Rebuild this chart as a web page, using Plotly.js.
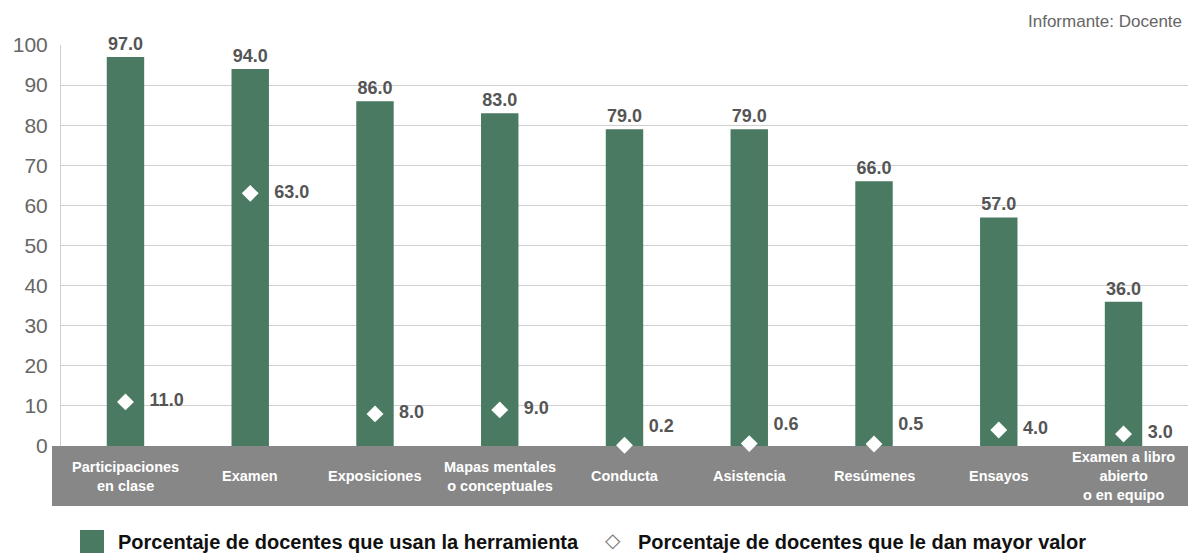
<!DOCTYPE html>
<html>
<head>
<meta charset="utf-8">
<script src="https://cdn.plot.ly/plotly-3.0.1.min.js"></script>
<style>html,body{margin:0;padding:0;background:#fff;}#chart{width:1188px;height:556px;}</style>
</head>
<body>
<div id="chart"></div>
<script>
const categories = ["Participaciones<br>en clase","Examen","Exposiciones","Mapas mentales<br>o conceptuales","Conducta","Asistencia","Resúmenes","Ensayos","Examen a libro<br>abierto<br>o en equipo"];
const usan = [97.0, 94.0, 86.0, 83.0, 79.0, 79.0, 66.0, 57.0, 36.0];
const mayorValor = [11.0, 63.0, 8.0, 9.0, 0.2, 0.6, 0.5, 4.0, 3.0];
const seriesNames = ["Porcentaje de docentes que usan la herramienta", "Porcentaje de docentes que le dan mayor valor"];
const informante = "Informante: Docente";

const GREEN = "#4a7a61";
const BAND = "#878787";
const TXT = "#555555";
const FONT = "Liberation Sans, sans-serif";

const W = 1188, H = 556, L = 61, R = 0, T = 45, B = 110;
const pw = W - L - R, ph = H - T - B;
const px = x => (x - L) / pw;
const py = y => (H - B - y) / ph;

const traces = [
  {
    type: "bar", x: categories, y: usan, name: seriesNames[0],
    marker: {color: GREEN}, width: 0.3,
    texttemplate: "%{y:.1f}", textposition: "outside", cliponaxis: false,
    textfont: {family: FONT, size: 18, color: TXT, weight: "bold"},
    showlegend: false, hoverinfo: "skip"
  },
  {
    type: "scatter", mode: "markers+text", x: categories, y: mayorValor, name: seriesNames[1],
    marker: {symbol: "diamond", size: 13, color: "#ffffff"},
    texttemplate: "   %{y:.1f}",
    textposition: mayorValor.map(v => v < 1 ? "top right" : "middle right"),
    textfont: {family: FONT, size: 18, color: TXT, weight: "bold"},
    cliponaxis: false, showlegend: false, hoverinfo: "skip"
  }
];

const annotations = categories.map(c => ({
  x: c, xref: "x", y: py(476), yref: "paper", text: "<b>" + c + "</b>",
  showarrow: false, xanchor: "center", yanchor: "middle",
  font: {family: FONT, size: 14.5, color: "#ffffff"}, align: "center"
}));
annotations.push({
  x: px(1184), y: py(22), xref: "paper", yref: "paper", text: informante,
  showarrow: false, xanchor: "right", yanchor: "middle",
  font: {family: FONT, size: 17, color: "#666666"}
});
annotations.push({
  x: px(116), y: py(542), xref: "paper", yref: "paper", text: "<b>" + seriesNames[0] + "</b>",
  showarrow: false, xanchor: "left", yanchor: "middle",
  font: {family: FONT, size: 20, color: "#111111"}
});
annotations.push({
  x: px(613), y: py(540), xref: "paper", yref: "paper", text: "◇",
  showarrow: false, xanchor: "center", yanchor: "middle",
  font: {family: "DejaVu Sans, sans-serif", size: 20, color: "#777777"}
});
annotations.push({
  x: px(636), y: py(542), xref: "paper", yref: "paper", text: "<b>" + seriesNames[1] + "</b>",
  showarrow: false, xanchor: "left", yanchor: "middle",
  font: {family: FONT, size: 20, color: "#111111"}
});

const shapes = [
  {type: "rect", xref: "paper", yref: "paper", x0: px(52), x1: 1, y0: py(506), y1: 0,
   fillcolor: BAND, line: {width: 0}, layer: "below"},
  {type: "rect", xref: "paper", yref: "paper", x0: px(80), x1: px(104), y0: py(553), y1: py(530),
   fillcolor: GREEN, line: {width: 0}}
];

const layout = {
  width: W, height: H,
  margin: {l: L, r: R, t: T, b: B, pad: 0},
  paper_bgcolor: "#ffffff", plot_bgcolor: "rgba(0,0,0,0)",
  showlegend: false,
  xaxis: {showticklabels: false, showgrid: false, zeroline: false, showline: false, ticks: "", fixedrange: true},
  yaxis: {
    range: [0, 100], dtick: 10, showgrid: true, gridcolor: "#d0d0d0", gridwidth: 1,
    zeroline: false, showline: true, linecolor: "#d0d0d0", linewidth: 1,
    ticks: "outside", ticklen: 8, tickcolor: "rgba(0,0,0,0)",
    tickfont: {family: FONT, size: 21, color: "#666666"}
  },
  annotations: annotations,
  shapes: shapes
};

Plotly.newPlot("chart", traces, layout, {displayModeBar: false, staticPlot: true});
</script>
</body>
</html>
